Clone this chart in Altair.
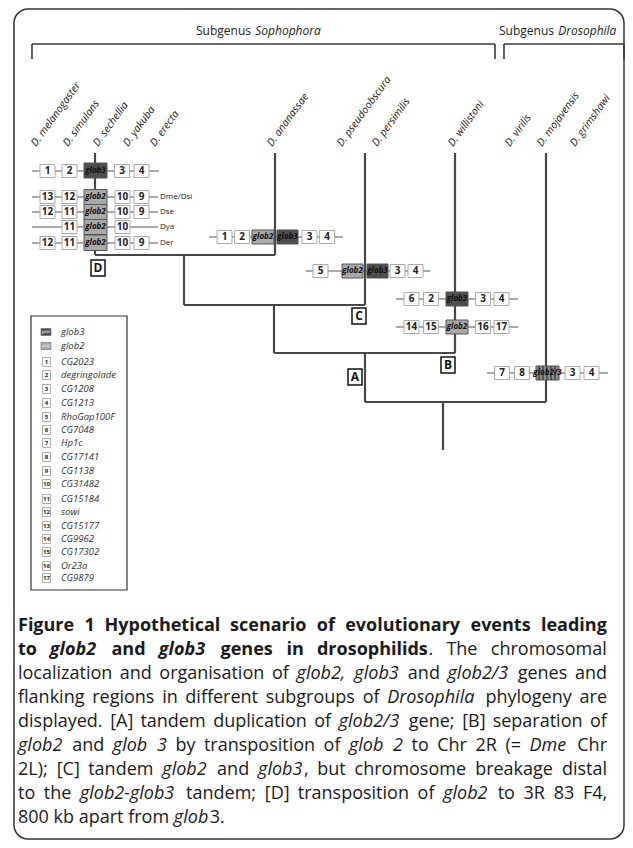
import altair as alt
import pandas as pd

# ---------------- data ----------------
# tree (phylogeny) segments
tree_x1 = [95, 95, 275, 184, 184, 365, 274, 274, 455, 365, 365, 546, 443]
tree_y1 = [153, 255, 153, 255, 305, 153, 305, 353, 153, 353, 402, 153, 402]
tree_x2 = [95, 275, 275, 184, 365, 365, 274, 455, 455, 365, 546, 546, 443]
tree_y2 = [255, 255, 255, 305, 305, 305, 353, 353, 353, 402, 402, 402, 450]

# subgenus brackets
br_x1 = [32, 32, 495, 504, 504, 624]
br_y1 = [44, 44, 44, 44, 44, 44]
br_x2 = [495, 32, 495, 624, 504, 624]
br_y2 = [44, 59, 59, 44, 59, 59]

# chromosome lines of gene rows
row_x1 = [32, 32, 32, 32, 32, 209, 306, 396, 396, 487]
row_x2 = [159, 158, 158, 158, 158, 343, 430, 518, 518, 608]
row_y = [171, 197, 212, 227, 243, 237, 271, 299, 327, 373]

# numbered flanking genes
num_label = ["1", "2", "3", "4",
             "13", "12", "10", "9",
             "12", "11", "10", "9",
             "11", "10",
             "12", "11", "10", "9",
             "1", "2", "3", "4",
             "5", "3", "4",
             "6", "2", "3", "4",
             "14", "15", "16", "17",
             "7", "8", "3", "4"]
num_x = [47.5, 69.5, 122, 141.5,
         47.5, 69.5, 122.5, 141.5,
         47.5, 69.5, 122.5, 141.5,
         69.5, 122.5,
         47.5, 69.5, 122.5, 141.5,
         224.5, 242, 309.5, 327,
         320.5, 397.5, 415.5,
         411.5, 431, 483, 501.5,
         411.5, 431, 483, 501.5,
         502, 522, 572.5, 591.5]
num_y = [171] * 4 + [197] * 4 + [212] * 4 + [227] * 2 + [243] * 4 + \
        [237] * 4 + [271] * 3 + [299] * 4 + [327] * 4 + [373] * 4

# globin genes
glob_label = ["glob3", "glob2", "glob2", "glob2", "glob2",
              "glob2", "glob3", "glob2", "glob3", "glob3", "glob2", "glob2/3"]
glob_x1 = [84, 84, 84, 84, 84, 252, 277, 342, 367, 446, 446, 536]
glob_x2 = [107, 107, 107, 107, 107, 274, 298, 363, 388, 468, 468, 559]
glob_y1 = [163, 189.5, 204.5, 219.5, 235, 230, 230, 264, 264, 292, 320, 366]
glob_y2 = [178, 204.5, 219.5, 234.5, 250.5, 244, 244, 278, 278, 306, 334, 380]
stripe_x = [539, 543, 547, 551, 555]

# subgroup labels right of the melanogaster rows
sub_label = ["Dme/Dsi", "Dse", "Dya", "Der"]
sub_y = [197, 212, 227, 243]

# event letters
ev_label = ["A", "B", "C", "D"]
ev_x = [355, 448, 359, 98]
ev_y = [377, 365, 316, 268]

# species
species = ["D. melanogaster", "D. simulans", "D. sechellia", "D. yakuba", "D. erecta",
           "D. ananassae", "D. pseudoobscura", "D. persimilis", "D. willistoni",
           "D. virilis", "D. mojavensis", "D. grimshawi"]
sp_x = [36, 68, 98, 128, 155, 272, 342, 377, 453, 510, 542, 575]

# header
head_plain = ["Subgenus", "Subgenus"]
head_ital = ["Sophophora", "Drosophila"]
head_x = [196, 499]

# legend
leg_label = ["glob3", "glob2", "CG2023", "degringolade", "CG1208", "CG1213", "RhoGap100F",
             "CG7048", "Hp1c", "CG17141", "CG1138", "CG31482", "CG15184", "sowi",
             "CG15177", "CG9962", "CG17302", "Or23a", "CG9879"]
leg_key = ["glob3", "glob2"] + [str(i) for i in range(1, 18)]
leg_y = [332, 346, 362, 375, 389, 403, 417, 430, 443, 457, 471, 484, 499, 512,
         526, 539, 552, 566, 578]

# caption: one list of (text, style) segments per line; n normal, i italic, b bold, bi bold italic
caption = [
    [("Figure 1 Hypothetical scenario of evolutionary events leading", "b")],
    [("to ", "b"), ("glob2", "bi"), (" and ", "b"), ("glob3", "bi"),
     (" genes in drosophilids", "b"), (". The chromosomal", "n")],
    [("localization and organisation of ", "n"), ("glob2, glob3", "i"), (" and ", "n"),
     ("glob2/3", "i"), (" genes and", "n")],
    [("flanking regions in different subgroups of ", "n"), ("Drosophila", "i"),
     (" phylogeny are", "n")],
    [("displayed. [A] tandem duplication of ", "n"), ("glob2/3", "i"),
     (" gene; [B] separation of", "n")],
    [("glob2", "i"), (" and ", "n"), ("glob 3", "i"), (" by transposition of ", "n"),
     ("glob 2", "i"), (" to Chr 2R (= ", "n"), ("Dme", "i"), (" Chr", "n")],
    [("2L); [C] tandem ", "n"), ("glob2", "i"), (" and ", "n"), ("glob3", "i"),
     (", but chromosome breakage distal", "n")],
    [("to the ", "n"), ("glob2-glob3", "i"), (" tandem; [D] transposition of ", "n"),
     ("glob2", "i"), (" to 3R 83 F4,", "n")],
    [("800 kb apart from ", "n"), ("glob", "i"), ("3.", "n")],
]
cap_left = 18
cap_right = 607
cap_y0 = 626
cap_dy = 24
cap_size = 18

# ---------------- text metrics (Open Sans advance widths, units per 2048 em) ----------------
REG = {' ': 532, '(': 604, ')': 604, ',': 502, '-': 659, '.': 545, '/': 752, ':': 545,
       ';': 545, '=': 1171, '[': 643, ']': 643,
       'A': 1296, 'B': 1327, 'C': 1292, 'D': 1493, 'E': 1139, 'F': 1057, 'G': 1491,
       'H': 1511, 'I': 571, 'L': 1073, 'R': 1300, 'S': 1139, 'T': 1147,
       'a': 1139, 'b': 1255, 'c': 975, 'd': 1255, 'e': 1149, 'f': 694, 'g': 1122,
       'h': 1257, 'i': 518, 'j': 518, 'k': 1075, 'l': 518, 'm': 1905, 'n': 1257,
       'o': 1237, 'p': 1255, 'q': 1255, 'r': 836, 's': 977, 't': 723, 'u': 1257,
       'v': 1026, 'w': 1593, 'x': 1073, 'y': 1028, 'z': 924}
BOLD = {' ': 532, ',': 586, '.': 598, 'F': 1144, 'H': 1579,
        'a': 1237, 'b': 1300, 'c': 1053, 'd': 1300, 'e': 1235, 'f': 821, 'g': 1147,
        'h': 1356, 'i': 621, 'l': 621, 'm': 2050, 'n': 1356, 'o': 1282, 'p': 1300,
        'r': 932, 's': 1036, 't': 844, 'u': 1356, 'v': 1188, 'w': 1722, 'x': 1186,
        'y': 1188}


def text_width(t, style, size):
    tot = 0
    for ch in t:
        if ch.isdigit():
            w = 1171
        elif "b" in style:
            w = BOLD.get(ch, REG.get(ch, 1150) * 1.06)
        else:
            w = REG.get(ch, 1150)
        if "i" in style and "b" not in style:
            w *= 0.985
        tot += w
    return tot / 2048 * size


def layout_caption():
    rows_out = []
    for li, segs in enumerate(caption):
        words = []  # [text, style, space_before]
        pending_space = False
        for text, style in segs:
            buf = ""
            for ch in text:
                if ch == " ":
                    if buf:
                        words.append([buf, style, pending_space])
                        buf = ""
                    pending_space = True
                else:
                    buf += ch
            if buf:
                words.append([buf, style, pending_space])
                pending_space = False
        if words:
            words[0][2] = False
        widths = [text_width(w[0], w[1], cap_size) for w in words]
        n_sp = sum(1 for w in words if w[2])
        last = li == len(caption) - 1
        natural_sp = 532 / 2048 * cap_size
        if last or n_sp == 0:
            gap = natural_sp
        else:
            gap = (cap_right - cap_left - sum(widths)) / n_sp
        x = cap_left
        for (t, s, sp_before), w in zip(words, widths):
            if sp_before:
                x += gap
            rows_out.append({"t": t, "s": s, "x": x, "y": cap_y0 + li * cap_dy})
            x += w
    return pd.DataFrame(rows_out)


# ---------------- scales ----------------
XS = alt.Scale(domain=[8, 625], range=[0, 617], nice=False, zero=False)
YS = alt.Scale(domain=[8, 840], range=[0, 832], nice=False, zero=False)
FONT = "Open Sans"


def X(f):
    return alt.X(f, type="quantitative", scale=XS, axis=None)


def Y(f):
    return alt.Y(f, type="quantitative", scale=YS, axis=None)


def X2(f):
    return alt.X2(f)


def Y2(f):
    return alt.Y2(f)


layers = []

# frame
frame = pd.DataFrame({"x1": [14], "x2": [624], "y1": [9], "y2": [839]})
layers.append(alt.Chart(frame).mark_rect(cornerRadius=14, fillOpacity=0, stroke="#333",
                                         strokeWidth=1.5)
              .encode(x=X("x1"), x2=X2("x2"), y=Y("y1"), y2=Y2("y2")))

# brackets
br = pd.DataFrame({"x1": br_x1, "y1": br_y1, "x2": br_x2, "y2": br_y2})
layers.append(alt.Chart(br).mark_rule(color="#3a3a3a", strokeWidth=1.6)
              .encode(x=X("x1"), y=Y("y1"), x2=X2("x2"), y2=Y2("y2")))

# header text
hd = pd.DataFrame({"t": head_plain, "x": head_x, "y": [31, 31]})
hdi = pd.DataFrame({"t": head_ital, "x": [v + text_width("Subgenus ", "n", 12) + 1 for v in head_x],
                    "y": [31, 31]})
layers.append(alt.Chart(hd).mark_text(font=FONT, fontSize=12, align="left", baseline="middle",
                                      color="#222")
              .encode(x=X("x"), y=Y("y"), text="t:N"))
layers.append(alt.Chart(hdi).mark_text(font=FONT, fontSize=12, fontStyle="italic", align="left",
                                       baseline="middle", color="#222")
              .encode(x=X("x"), y=Y("y"), text="t:N"))

# species labels
sp = pd.DataFrame({"t": species, "x": sp_x, "y": [147] * len(species)})
layers.append(alt.Chart(sp).mark_text(font=FONT, fontSize=10.5, fontStyle="italic", align="left",
                                      baseline="alphabetic", angle=306, color="#222")
              .encode(x=X("x"), y=Y("y"), text="t:N"))

# chromosome lines
rows = pd.DataFrame({"x1": row_x1, "x2": row_x2, "y": row_y})
layers.append(alt.Chart(rows).mark_rule(color="#555", strokeWidth=1.2)
              .encode(x=X("x1"), x2=X2("x2"), y=Y("y")))

# tree
tr = pd.DataFrame({"x1": tree_x1, "y1": tree_y1, "x2": tree_x2, "y2": tree_y2})
layers.append(alt.Chart(tr).mark_rule(color="#474747", strokeWidth=2.2)
              .encode(x=X("x1"), y=Y("y1"), x2=X2("x2"), y2=Y2("y2")))

# numbered gene boxes
nb = pd.DataFrame({"t": num_label, "x": num_x, "y": num_y})
nb["x1"] = nb["x"] - 7.5
nb["x2"] = nb["x"] + 7.5
nb["y1"] = nb["y"] - 6.5
nb["y2"] = nb["y"] + 6.5
layers.append(alt.Chart(nb).mark_rect(fill="white", stroke="#aaaaaa", strokeWidth=1)
              .encode(x=X("x1"), x2=X2("x2"), y=Y("y1"), y2=Y2("y2")))
layers.append(alt.Chart(nb).mark_text(font=FONT, fontSize=10, fontWeight="bold", color="#222",
                                      baseline="middle")
              .encode(x=X("x"), y=Y("y"), text="t:N"))

# globin boxes
gb = pd.DataFrame({"t": glob_label, "x1": glob_x1, "x2": glob_x2, "y1": glob_y1, "y2": glob_y2})
gb["x"] = (gb["x1"] + gb["x2"]) / 2
gb["y"] = (gb["y1"] + gb["y2"]) / 2
gcol = alt.Color("t:N", scale=alt.Scale(domain=["glob3", "glob2", "glob2/3"],
                                        range=["#4f4f4f", "#a9a9a9", "#8e8e8e"]), legend=None)
layers.append(alt.Chart(gb).mark_rect(stroke="#555", strokeWidth=1, opacity=1)
              .encode(x=X("x1"), x2=X2("x2"), y=Y("y1"), y2=Y2("y2"), fill=gcol))
st = pd.DataFrame({"x": stripe_x, "y1": [366] * len(stripe_x), "y2": [380] * len(stripe_x)})
layers.append(alt.Chart(st).mark_rule(color="#3c3c3c", strokeWidth=1.3)
              .encode(x=X("x"), y=Y("y1"), y2=Y2("y2")))
layers.append(alt.Chart(gb).mark_text(font=FONT, fontSize=8, fontStyle="italic", fontWeight="bold",
                                      color="#111", baseline="middle")
              .encode(x=X("x"), y=Y("y"), text="t:N"))

# subgroup labels
sb = pd.DataFrame({"t": sub_label, "y": sub_y, "x": [160] * 4})
layers.append(alt.Chart(sb).mark_text(font=FONT, fontSize=8, align="left", baseline="middle",
                                      color="#222")
              .encode(x=X("x"), y=Y("y"), text="t:N"))

# event letters
ev = pd.DataFrame({"t": ev_label, "x": ev_x, "y": ev_y})
ev["x1"] = ev["x"] - 7
ev["x2"] = ev["x"] + 7
ev["y1"] = ev["y"] - 8
ev["y2"] = ev["y"] + 8
layers.append(alt.Chart(ev).mark_rect(fill="white", stroke="#111", strokeWidth=1.5)
              .encode(x=X("x1"), x2=X2("x2"), y=Y("y1"), y2=Y2("y2")))
layers.append(alt.Chart(ev).mark_text(font=FONT, fontSize=12, fontWeight="bold", color="#111",
                                      baseline="middle")
              .encode(x=X("x"), y=Y("y"), text="t:N"))

# legend box
lb = pd.DataFrame({"x1": [31], "x2": [127], "y1": [316], "y2": [590]})
layers.append(alt.Chart(lb).mark_rect(fill="white", stroke="#333", strokeWidth=1.2)
              .encode(x=X("x1"), x2=X2("x2"), y=Y("y1"), y2=Y2("y2")))
lg = pd.DataFrame({"t": leg_label, "k": leg_key, "y": leg_y})
lg["kind"] = ["g"] * 2 + ["n"] * 17
lgg = lg[lg["kind"] == "g"].copy()
lgg["x1"] = 41
lgg["x2"] = 51
lgg["y1"] = lgg["y"] - 3.5
lgg["y2"] = lgg["y"] + 3.5
lgg["x"] = 46
layers.append(alt.Chart(lgg).mark_rect(stroke="#666", strokeWidth=0.6)
              .encode(x=X("x1"), x2=X2("x2"), y=Y("y1"), y2=Y2("y2"),
                      fill=alt.Color("k:N", scale=alt.Scale(domain=["glob3", "glob2"],
                                                            range=["#4f4f4f", "#a9a9a9"]),
                                     legend=None)))
layers.append(alt.Chart(lgg).mark_text(font=FONT, fontSize=3, fontWeight="bold", color="#ddd",
                                       baseline="middle")
              .encode(x=X("x"), y=Y("y"), text="k:N"))
lgn = lg[lg["kind"] == "n"].copy()
lgn["x1"] = 42.5
lgn["x2"] = 50.5
lgn["y1"] = lgn["y"] - 4.5
lgn["y2"] = lgn["y"] + 4.5
lgn["x"] = 46.5
layers.append(alt.Chart(lgn).mark_rect(fill="white", stroke="#999", strokeWidth=0.8)
              .encode(x=X("x1"), x2=X2("x2"), y=Y("y1"), y2=Y2("y2")))
layers.append(alt.Chart(lgn).mark_text(font=FONT, fontSize=6, fontWeight="bold", color="#222",
                                       baseline="middle")
              .encode(x=X("x"), y=Y("y"), text="k:N"))
lg["x"] = 61
layers.append(alt.Chart(lg).mark_text(font=FONT, fontSize=9.5, fontStyle="italic", color="#333",
                                      align="left", baseline="middle")
              .encode(x=X("x"), y=Y("y"), text="t:N"))

# caption
cap = layout_caption()
styles = {"n": ("normal", "normal"), "i": ("italic", "normal"),
          "b": ("normal", "bold"), "bi": ("italic", "bold")}
for key, (fs, fw) in styles.items():
    sub = cap[cap["s"] == key]
    layers.append(alt.Chart(sub).mark_text(font=FONT, fontSize=cap_size, fontStyle=fs,
                                           fontWeight=fw, color="#1a1a1a", align="left",
                                           baseline="middle")
                  .encode(x=X("x"), y=Y("y"), text="t:N"))

chart = alt.layer(*layers).properties(
    width=617, height=832, padding=0, autosize=alt.AutoSizeParams(type="none")
).configure_view(stroke=None)

chart.save("out.html", embed_options={"renderer": "svg", "actions": False})
